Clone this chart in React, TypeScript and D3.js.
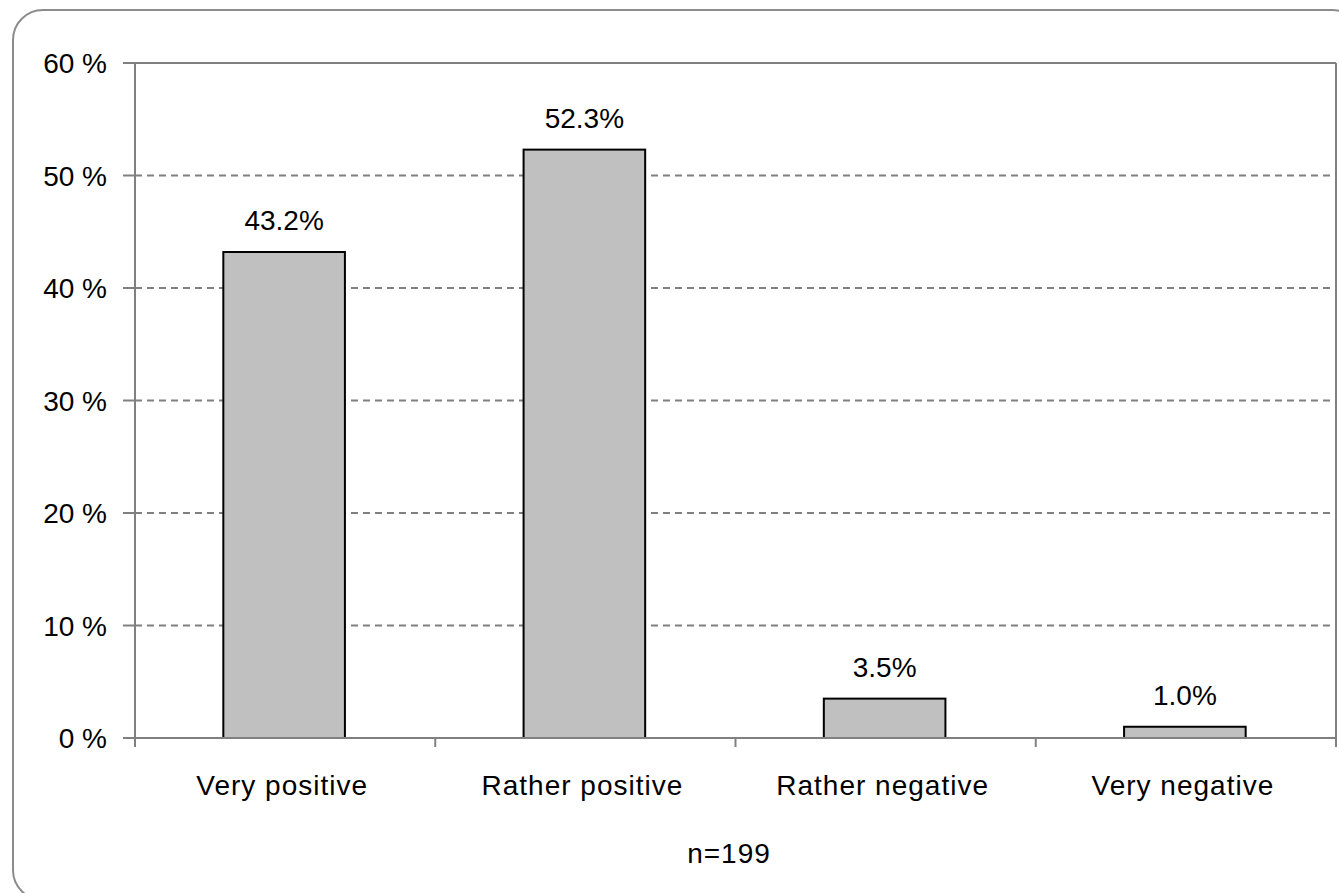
import React from "react";
import * as d3 from "d3";

const categories = ["Very positive", "Rather positive", "Rather negative", "Very negative"];
const shares = [43.2, 52.3, 3.5, 1.0];
const yTicks = [0, 10, 20, 30, 40, 50, 60];
const sampleNote = "n=199";

const W = 1339;
const H = 893;
const plot = { left: 135, right: 1336, top: 63, bottom: 738 };
const FONT = "'Liberation Sans', Arial, sans-serif";
const GRID = "#808080";

export default function App() {
  const x = d3.scaleBand<string>().domain(categories).range([plot.left, plot.right]).padding(0);
  const y = d3.scaleLinear().domain([0, 60]).range([plot.bottom, plot.top]);
  const bw = x.bandwidth() * 0.405;
  const edges = [...categories.map((c) => x(c) as number), plot.right];

  return (
    <svg
      width={W}
      height={H}
      style={{ position: "absolute", left: 0, top: 0, display: "block", background: "#fff" }}
      fontFamily={FONT}
    >
      {/* chart frame */}
      <rect x={13} y={10} width={1349} height={890} rx={30} ry={30} fill="#fff" stroke="#8c8c8c" strokeWidth={2} />

      {/* dashed gridlines */}
      {yTicks
        .filter((t) => t > 0 && t < 60)
        .map((t) => (
          <line
            key={"g" + t}
            x1={plot.left}
            x2={plot.right}
            y1={y(t)}
            y2={y(t)}
            stroke={GRID}
            strokeWidth={2}
            strokeDasharray="7 5"
          />
        ))}

      {/* plot border: top and right */}
      <line x1={plot.left - 12} x2={plot.right} y1={plot.top} y2={plot.top} stroke={GRID} strokeWidth={2} />
      <line x1={plot.right} x2={plot.right} y1={plot.top} y2={plot.bottom} stroke={GRID} strokeWidth={2} />

      {/* bars */}
      {categories.map((c, i) => {
        const cx = (x(c) as number) + x.bandwidth() / 2 - 1;
        const top = y(shares[i]);
        return (
          <g key={c}>
            <rect
              x={cx - bw / 2}
              y={top}
              width={bw}
              height={plot.bottom - top}
              fill="#c0c0c0"
              stroke="#000"
              strokeWidth={2}
            />
            <text x={cx} y={top - 22} textAnchor="middle" fontSize={28} fill="#000">
              {shares[i].toFixed(1) + "%"}
            </text>
            <text x={cx - 2} y={795} textAnchor="middle" fontSize={28} letterSpacing={1} fill="#000">
              {c}
            </text>
          </g>
        );
      })}

      {/* y axis */}
      <line x1={plot.left} x2={plot.left} y1={plot.top} y2={plot.bottom + 9} stroke={GRID} strokeWidth={2} />
      {yTicks.map((t) => (
        <g key={"t" + t}>
          <line x1={plot.left - 12} x2={plot.left} y1={y(t)} y2={y(t)} stroke={GRID} strokeWidth={2} />
          <text x={107} y={y(t) + 10} textAnchor="end" fontSize={28} fill="#000">
            {t + " %"}
          </text>
        </g>
      ))}

      {/* x axis */}
      <line x1={plot.left} x2={plot.right} y1={plot.bottom} y2={plot.bottom} stroke={GRID} strokeWidth={2} />
      {edges.map((e, i) => (
        <line key={"xt" + i} x1={e} x2={e} y1={plot.bottom} y2={plot.bottom + 9} stroke={GRID} strokeWidth={2} />
      ))}

      <text x={729} y={863} textAnchor="middle" fontSize={28} letterSpacing={1} fill="#000">
        {sampleNote}
      </text>
    </svg>
  );
}
